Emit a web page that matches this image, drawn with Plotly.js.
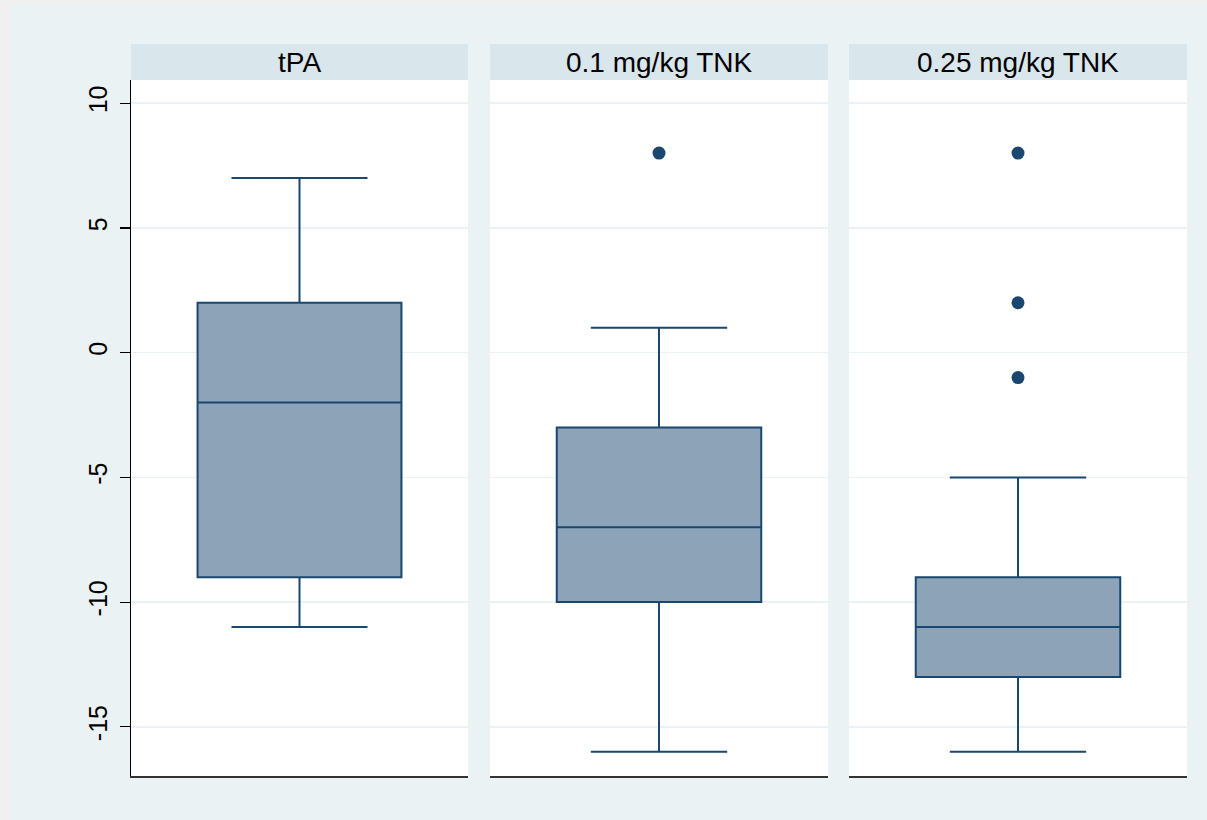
<!DOCTYPE html>
<html>
<head>
<meta charset="utf-8">
<script src="https://cdn.plot.ly/plotly-3.0.1.min.js"></script>
<style>
  html, body { margin: 0; padding: 0; background: #F0F0F0; width: 1207px; height: 820px; overflow: hidden; }
  #chart { position: absolute; left: 11px; top: 5px; width: 1196px; height: 815px; }
</style>
</head>
<body>
<div id="chart"></div>
<script>
// ---- data ----
const groups = ['tPA', '0.1 mg/kg TNK', '0.25 mg/kg TNK'];
const lowerWhisker = [-11, -16, -16];
const q1Values = [-9, -10, -13];
const medianValues = [-2, -7, -11];
const q3Values = [2, -3, -9];
const upperWhisker = [7, 1, -5];
const outlierValues = [[], [8], [-1, 2, 8]];
const yTickValues = [-15, -10, -5, 0, 5, 10];

// ---- styling ----
const navy = '#1A476F';
const fill = '#8DA4B8';
const gridColor = '#EAF2F3';
const font = 'Liberation Sans, Arial, sans-serif';

const W = 1196, H = 815;
const ml = 120, mr = 20, mt = 39, mb = 44;
const pw = W - ml - mr, ph = H - mt - mb;
const domains = [[0, 337 / pw], [359 / pw, 697 / pw], [718 / pw, 1]];
const stripH = 36;
const yTop = (ph - stripH) / ph;

const traces = [];
const layout = {
  width: W, height: H,
  margin: {l: ml, r: mr, t: mt, b: mb, pad: 0},
  paper_bgcolor: '#EAF2F3',
  plot_bgcolor: '#FFFFFF',
  showlegend: false,
  font: {family: font, color: '#000'},
  shapes: [],
  annotations: []
};

groups.forEach((g, i) => {
  const xa = i === 0 ? 'x' : 'x' + (i + 1);
  const ya = i === 0 ? 'y' : 'y' + (i + 1);
  traces.push({
    type: 'box',
    x: [0],
    q1: [q1Values[i]],
    median: [medianValues[i]],
    q3: [q3Values[i]],
    lowerfence: [lowerWhisker[i]],
    upperfence: [upperWhisker[i]],
    width: 0.605,
    whiskerwidth: 0.667,
    fillcolor: fill,
    line: {color: navy, width: 2},
    boxpoints: false,
    hoverinfo: 'skip',
    xaxis: xa, yaxis: ya
  });
  if (outlierValues[i].length) {
    traces.push({
      type: 'scatter', mode: 'markers',
      x: outlierValues[i].map(() => 0),
      y: outlierValues[i],
      marker: {color: navy, size: 13},
      hoverinfo: 'skip',
      xaxis: xa, yaxis: ya
    });
  }
  const xKey = i === 0 ? 'xaxis' : 'xaxis' + (i + 1);
  const yKey = i === 0 ? 'yaxis' : 'yaxis' + (i + 1);
  layout[xKey] = {
    domain: domains[i], anchor: ya, range: [-0.5, 0.5],
    showgrid: false, zeroline: false, showticklabels: false, ticks: '',
    showline: true, linecolor: '#333333', linewidth: 1.5, fixedrange: true
  };
  layout[yKey] = {
    domain: [0, yTop], anchor: xa, range: [-16.97, 10.93],
    tickvals: yTickValues, ticktext: yTickValues.map(String),
    showgrid: true, gridcolor: gridColor, gridwidth: 1.5, zeroline: false,
    showticklabels: i === 0, ticks: i === 0 ? 'outside' : '', ticklen: 10, tickwidth: 1.2, tickcolor: '#000',
    tickangle: -90, tickfont: {size: 25, family: font, color: '#000'},
    ticklabelstandoff: 3,
    showline: i === 0, linecolor: '#000', linewidth: 1.5, fixedrange: true
  };
  layout.shapes.push({
    type: 'rect', xref: xa + ' domain', yref: 'paper',
    x0: 0, x1: 1, y0: yTop, y1: 1,
    fillcolor: '#D9E6EB', line: {width: 0}, layer: 'below'
  });
  layout.annotations.push({
    xref: xa + ' domain', yref: 'paper', x: 0.5, y: (yTop + 1) / 2,
    xanchor: 'center', yanchor: 'middle', showarrow: false,
    text: g, font: {size: 28, family: font, color: '#000'}
  });
});

Plotly.newPlot('chart', traces, layout, {displayModeBar: false, staticPlot: true});
</script>
</body>
</html>
